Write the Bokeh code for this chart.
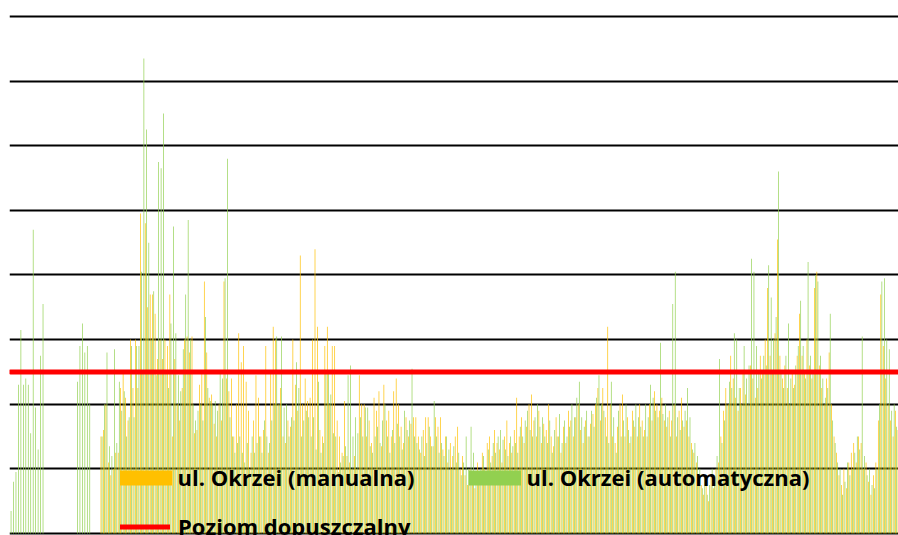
import numpy as np
from bokeh.plotting import figure
from bokeh.models import Range1d, ColumnDataSource, Legend, LegendItem, Grid, FixedTicker
from bokeh.embed import file_html
from bokeh.resources import INLINE

# ---- data (daily PM10 values, µg/m³) ----
N_DAYS = 362
LIMIT = 50
TICKS = [0, 20, 40, 60, 80, 100, 120, 140, 160]
LABEL_MANUAL = "ul. Okrzei (manualna)"
LABEL_AUTO = "ul. Okrzei (automatyczna)"
LABEL_LIMIT = "Poziom dopuszczalny"

manual = [None] * 37 + [
    30, 32, 40, 22, 18, 20, 25, 25, 45, 50, 42, 35, 60,
    45, 60, 45, 99, 50, 96, 70, 74, 74, 68,
    54, 60, 54, 60, 58, 74, 30, 54, 40, 35,
    45, 60, 61, 56, 61, 31, 32, 46, 50, 78,
    56, 42, 43, 34, 30, 40, 35, 78, 48, 44,
    48, 30, 40, 62, 53, 58, 47, 38, 25, 35,
    49, 42, 30, 32, 58, 25, 50, 64, 60, 40,
    45, 30, 28, 35, 33, 60, 46, 38, 86, 40,
    48, 41, 42, 60, 88, 64, 32, 30, 58, 64,
    40, 58, 58, 35, 30, 25, 41, 24, 22, 20,
    24, 20, 49, 40, 40, 30, 35, 28, 42, 38,
    44, 27, 46, 35, 38, 30, 44, 48, 40, 33,
    28, 36, 30, 34, 36, 36, 30, 25, 32, 36,
    36, 30, 27, 36, 33, 36, 26, 30, 22, 28,
    24, 30, 33, 20, 24, 18, 15, 20, 16, 14,
    22, 18, 25, 20, 28, 30, 24, 32, 28, 26,
    22, 30, 35, 28, 25, 32, 42, 30, 36, 28,
    33, 40, 43, 35, 30, 38, 28, 34, 32, 40,
    30, 27, 36, 30, 25, 33, 28, 38, 35, 30,
    36, 40, 32, 28, 35, 30, 34, 37, 40, 45,
    35, 45, 36, 64, 40, 30, 28, 33, 40, 43,
    30, 36, 28, 38, 33, 30, 40, 35, 32, 30,
    40, 35, 44, 40, 38, 42, 35, 33, 38, 35,
    40, 30, 38, 42, 33, 35, 30, 28, 25, 22,
    18, 15, 12, 16, 10, 18, 14, 20, 22, 30,
    38, 45, 40, 55, 48, 42, 38, 45, 50, 43,
    40, 52, 48, 42, 45, 55, 50, 60, 76, 55,
    50, 62, 91, 55, 48, 52, 45, 40, 50, 46,
    55, 68, 55, 50, 60, 52, 48, 76, 81, 52,
    45, 40, 48, 56, 40, 30, 25, 18, 15, 20,
    14, 22, 25, 28, 22, 30, 28, 20, 22, 16,
    12, 18, 22, 35, 74, 58, 48, 40, 35, 30, 38, 32,
]

automatic = [
    7, 16, 19, 46, 63, 46, 48, 46, 31, 94, 39, 26, 55, 71,
] + [None] * 13 + [
    47, 58, 65, 56, 58, 40,
] + [None] * 4 + [
    30, 40, 56, 27, 24, 57, 28, 47, 38, 44, 30, 36, 58,
    36, 58, 58, 81, 147, 125, 90, 60, 75, 49,
    115, 113, 130, 50, 45, 65, 95, 62, 49, 44,
    57, 74, 97, 60, 40, 35, 38, 40, 35, 67,
    45, 41, 40, 41, 38, 50, 48, 79, 116, 36,
    30, 25, 28, 30, 25, 22, 28, 20, 30, 25,
    28, 30, 25, 35, 30, 28, 35, 40, 61, 40,
    61, 39, 40, 30, 36, 35, 53, 45, 30, 35,
    38, 36, 30, 36, 26, 47, 25, 28, 50, 50,
    43, 31, 30, 19, 22, 24, 27, 49, 52, 30,
    36, 31, 36, 30, 39, 39, 27, 25, 30, 33,
    28, 35, 40, 30, 25, 32, 28, 34, 30, 26,
    38, 32, 35, 51, 30, 28, 26, 30, 24, 28,
    33, 27, 41, 30, 25, 28, 24, 30, 26, 20,
    27, 22, 25, 18, 22, 30, 20, 33, 25, 18,
    15, 20, 24, 17, 26, 22, 28, 25, 30, 32,
    29, 26, 24, 30, 27, 28, 25, 33, 30, 35,
    38, 32, 30, 36, 40, 33, 36, 30, 28, 35,
    25, 32, 30, 37, 28, 35, 30, 33, 40, 36,
    42, 47, 36, 33, 38, 30, 38, 33, 42, 49,
    40, 38, 30, 28, 47, 36, 25, 38, 30, 35,
    40, 32, 30, 35, 40, 36, 33, 30, 40, 36,
    46, 42, 38, 36, 59, 37, 40, 36, 30, 71,
    81, 36, 32, 35, 38, 45, 36, 26, 28, 24,
    20, 14, 18, 12, 15, 20, 16, 24, 54, 28,
    35, 40, 47, 45, 62, 60, 45, 40, 58, 48,
    52, 85, 81, 58, 50, 48, 55, 52, 83, 73,
    60, 67, 112, 50, 45, 55, 65, 48, 45, 52,
    58, 72, 58, 48, 84, 55, 50, 80, 78, 55,
    48, 42, 45, 68, 35, 28, 22, 20, 12, 16,
    22, 18, 20, 25, 30, 26, 61, 24, 18, 20,
    15, 14, 20, 40, 78, 79, 60, 57, 38, 40, 33, 36,
]

days = list(range(N_DAYS))
limit = [LIMIT] * N_DAYS

# ---- sources ----
def series_source(values, offset):
    xs, tops = [], []
    for d, v in zip(days, values):
        if v is not None:
            xs.append(d + offset)
            tops.append(v)
    return ColumnDataSource(dict(x=xs, top=tops))

src_manual = series_source(manual, -0.22)
src_auto = series_source(automatic, 0.22)
src_limit = ColumnDataSource(dict(x=days, y=limit))

p = figure(
    width=898, height=535,
    x_range=Range1d(-0.41, 360.98),
    y_range=Range1d(-0.62, 164.95),
    output_backend="svg", toolbar_location=None,
    x_axis_location=None, y_axis_location=None,
    min_border_left=9, min_border_right=0, min_border_top=0, min_border_bottom=0,
    outline_line_color=None,
)
for g in list(p.center):
    g.visible = False

p.add_layout(Grid(dimension=1, ticker=FixedTicker(ticks=TICKS),
                  grid_line_color="black", grid_line_width=2))

r_man = p.vbar(x="x", top="top", bottom=0, width=0.28, source=src_manual,
               fill_color="#FFC000", line_color=None)
r_auto = p.vbar(x="x", top="top", bottom=0, width=0.28, source=src_auto,
                fill_color="#92D050", line_color=None)
r_lim = p.line(x="x", y="y", source=src_limit, line_color="#FF0000",
               line_width=5, line_cap="round")

def make_legend(label, renderer, loc, gw, gh, standoff):
    lg = Legend(items=[LegendItem(label=label, renderers=[renderer])],
                location=loc, padding=0, margin=0, spacing=0,
                glyph_width=gw, glyph_height=gh, label_standoff=standoff,
                label_height=15,
                label_text_font="Open Sans", label_text_font_style="bold",
                label_text_font_size="22px", label_text_color="black",
                border_line_color=None, background_fill_alpha=0)
    p.add_layout(lg, "center")

make_legend(LABEL_MANUAL, r_man, (103.5, 43), 65, 19, 0)
make_legend(LABEL_AUTO, r_auto, (452.5, 43), 65, 19, 0)
make_legend(LABEL_LIMIT, r_lim, (111, -6), 50, 15, 8)

open("out.html", "w").write(file_html(p, INLINE))
